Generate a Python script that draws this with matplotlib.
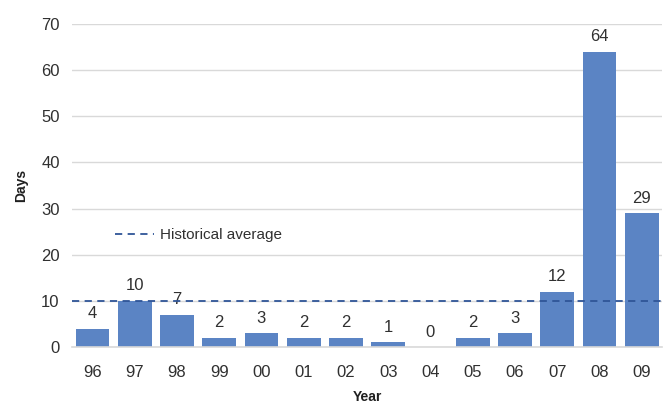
import matplotlib.pyplot as plt
import numpy as np

years = ['96', '97', '98', '99', '00', '01', '02', '03', '04', '05', '06', '07', '08', '09']
days = [4, 10, 7, 2, 3, 2, 2, 1, 0, 2, 3, 12, 64, 29]
hist_avg = 10

plt.rcParams['font.family'] = ['Liberation Sans', 'DejaVu Sans']

fig = plt.figure(figsize=(6.68, 4.08), dpi=100)
ax = fig.add_axes([0.108, 0.1495, 0.883, 0.7915])

x = np.arange(len(years))
ax.bar(x, days, width=0.8, color='#5B84C4', zorder=2)
for xi, d in zip(x, days):
    ax.text(xi, d + 1.6, str(d), ha='center', va='bottom', fontsize=12, color='#303030')

ax.axhline(hist_avg, color='#2F5597', linestyle=(0, (4, 3)), linewidth=1.3, zorder=3,
           label='Historical average')

ax.set_xlim(-0.48, len(years) - 0.52)
ax.set_ylim(0, 70)
ax.set_yticks(range(0, 71, 10))
ax.set_xticks(x)
ax.set_xticklabels(years)
ax.grid(axis='y', color='#D9D9D9', linewidth=1, zorder=0)
for s in ['top', 'right', 'left']:
    ax.spines[s].set_visible(False)
ax.spines['bottom'].set_color('#D9D9D9')
ax.spines['bottom'].set_linewidth(1.2)
ax.tick_params(length=0, labelsize=12, labelcolor='#303030')
ax.tick_params(axis='x', pad=13)
ax.tick_params(axis='y', pad=9)

ax.set_ylabel('Days', fontsize=10, fontweight='bold', color='#202020', labelpad=9)
ax.set_xlabel('Year', fontsize=10, fontweight='bold', color='#202020', labelpad=7)

ax.legend(loc='upper left', bbox_to_anchor=(0.05, 0.41), frameon=False, fontsize=11,
          handlelength=2.5, handletextpad=0.4, labelcolor='#303030')

fig.savefig('out.png', dpi=100)
